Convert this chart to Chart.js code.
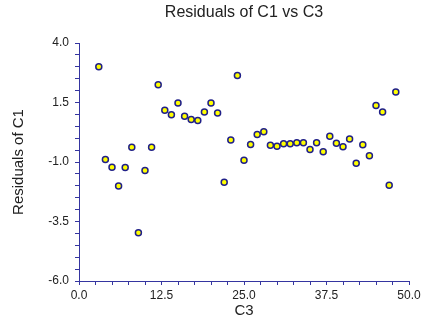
<!DOCTYPE html>
<html>
<head>
<meta charset="utf-8">
<script src="https://cdn.jsdelivr.net/npm/chart.js@4/dist/chart.umd.min.js"></script>
<style>
  html, body { margin: 0; padding: 0; background: #fff; }
  #wrap { width: 424px; height: 320px; }
</style>
</head>
<body>
<div id="wrap"><canvas id="grafico"></canvas></div>
<script>
// C3 values (x) and residuals of C1 (y)
const c3 = [3, 4, 5, 6, 7, 8, 9, 10, 11, 12, 13, 14, 15, 16, 17, 18, 19, 20, 21, 22, 23, 24,
  25, 26, 27, 28, 29, 30, 31, 32, 33, 34, 35, 36, 37, 38, 39, 40, 41, 42, 43, 44, 45, 46, 47, 48];
const residuals = [3.0, -0.9, -1.22, -2.01, -1.23, -0.38, -3.97, -1.36, -0.38, 2.25, 1.17, 0.99,
  1.48, 0.92, 0.79, 0.74, 1.1, 1.48, 1.06, -1.85, -0.08, 2.63,
  -0.93, -0.26, 0.16, 0.27, -0.3, -0.34, -0.23, -0.23, -0.19, -0.19, -0.47, -0.19, -0.57, 0.08,
  -0.21, -0.36, -0.03, -1.05, -0.27, -0.74, 1.37, 1.1, -1.98, 1.94];

const xMajor = [0, 12.5, 25, 37.5, 50];
const yMajor = [-6, -3.5, -1, 1.5, 4];

const axisColor = '#3535a0';
const textColor = '#222';

const points = c3.map((x, i) => ({ x: x, y: residuals[i] }));

function isMajor(list, v) {
  return list.some(m => Math.abs(m - v) < 1e-6);
}

const ctx = document.getElementById('grafico').getContext('2d');

const myChart = new Chart(ctx, {
  type: 'scatter',
  data: {
    datasets: [{
      data: points,
      pointRadius: 3,
      pointHoverRadius: 3,
      pointBackgroundColor: '#ffff00',
      pointBorderColor: '#202088',
      pointBorderWidth: 1.5
    }]
  },
  options: {
    responsive: true,
    maintainAspectRatio: false,
    animation: false,
    layout: { padding: { left: 0, right: 15, top: 0, bottom: 0 } },
    plugins: {
      legend: { display: false },
      tooltip: { enabled: false },
      title: {
        display: true,
        text: 'Residuals of C1 vs C3',
        fullSize: false,
        color: textColor,
        font: { family: 'Liberation Sans, Arial', size: 16, weight: 'normal' },
        padding: { top: 3, bottom: 20.8 }
      }
    },
    scales: {
      x: {
        type: 'linear',
        min: 0,
        max: 50,
        afterFit: (s) => { s.height = 39; },
        grid: { drawOnChartArea: false, drawTicks: true, tickLength: 4, color: axisColor, lineWidth: 1 },
        border: { display: true, color: axisColor, width: 1 },
        ticks: {
          stepSize: 2.5,
          autoSkip: false,
          maxRotation: 0,
          padding: 3,
          color: textColor,
          font: { family: 'Liberation Sans, Arial', size: 12 },
          callback: (v) => isMajor(xMajor, v) ? v.toFixed(1) : ''
        },
        title: {
          display: true,
          text: 'C3',
          color: textColor,
          font: { family: 'Liberation Sans, Arial', size: 15 },
          padding: { top: 0, bottom: 0 }
        }
      },
      y: {
        type: 'linear',
        min: -6,
        max: 4,
        afterFit: (s) => { s.width = 79; },
        grid: { drawOnChartArea: false, drawTicks: true, tickLength: 4, color: axisColor, lineWidth: 1 },
        border: { display: true, color: axisColor, width: 1 },
        ticks: {
          stepSize: 0.5,
          autoSkip: false,
          padding: 6,
          color: textColor,
          font: { family: 'Liberation Sans, Arial', size: 12 },
          callback: (v) => isMajor(yMajor, v) ? v.toFixed(1) : ''
        },
        title: {
          display: true,
          text: 'Residuals of C1',
          color: textColor,
          font: { family: 'Liberation Sans, Arial', size: 15 },
          padding: { top: 10, bottom: 0 }
        }
      }
    }
  }
});
</script>
</body>
</html>
